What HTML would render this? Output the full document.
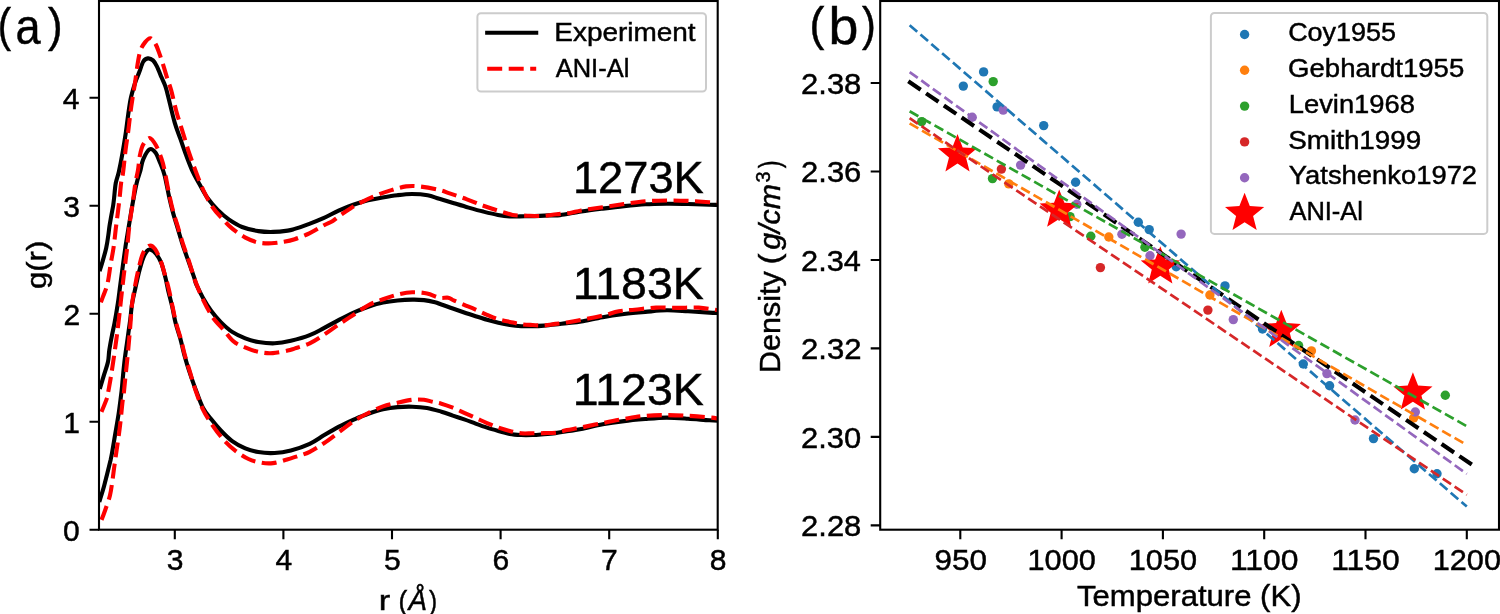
<!DOCTYPE html>
<html><head><meta charset="utf-8"><style>
html,body{margin:0;padding:0;background:#fff;width:1500px;height:614px;overflow:hidden;}
svg{display:block;will-change:transform;}
text{font-family:"Liberation Sans",sans-serif;fill:#000;stroke:#000;stroke-width:0.45px;}
</style></head><body>
<svg width="1500" height="614" viewBox="0 0 1500 614">
<rect width="1500" height="614" fill="#fff"/>
<defs><clipPath id="ca"><rect x="99" y="1" width="618.7" height="528.7"/></clipPath><clipPath id="cb"><rect x="880.2" y="1" width="618.8" height="528.7"/></clipPath></defs>
<g clip-path="url(#ca)" fill="none" stroke-linejoin="round">
<path d="M99.6,271.1 C100.1,269.4 101.7,264.5 102.8,260.6 C103.9,256.8 105.3,252.1 106.2,248.0 C107.1,243.9 107.7,239.7 108.2,236.0 C108.8,232.3 109.0,229.4 109.5,226.0 C110.0,222.6 110.7,219.1 111.3,215.6 C111.9,212.1 112.7,208.5 113.2,205.2 C113.7,201.9 113.9,199.7 114.3,196.0 C114.7,192.3 115.0,187.0 115.8,183.0 C116.5,179.0 117.7,176.9 118.8,172.0 C119.9,167.1 121.3,159.9 122.4,153.6 C123.5,147.3 124.6,140.6 125.6,134.1 C126.6,127.6 127.3,120.5 128.2,114.5 C129.1,108.5 129.7,103.3 130.8,98.2 C131.9,93.1 133.4,88.2 134.8,83.8 C136.2,79.4 137.9,75.8 139.3,72.1 C140.7,68.4 141.8,64.0 143.2,61.7 C144.6,59.4 146.2,58.6 147.8,58.4 C149.4,58.2 151.5,59.1 153.0,60.4 C154.5,61.7 155.5,63.5 156.9,66.3 C158.3,69.1 160.1,73.9 161.5,77.3 C162.9,80.7 164.2,82.9 165.4,86.4 C166.6,89.9 167.1,92.2 168.6,98.2 C170.1,104.2 172.7,115.8 174.7,122.6 C176.7,129.4 178.5,133.5 180.4,138.9 C182.3,144.3 184.1,149.7 186.1,155.1 C188.1,160.5 190.3,166.5 192.6,171.4 C194.9,176.3 197.2,180.2 199.8,184.7 C202.4,189.2 204.9,194.3 207.9,198.5 C210.9,202.7 214.2,206.4 217.7,209.9 C221.2,213.4 225.0,216.8 229.1,219.7 C233.2,222.5 237.2,225.1 242.1,227.0 C247.0,228.9 253.2,230.3 258.4,231.1 C263.6,231.9 268.2,232.0 273.1,231.9 C278.0,231.8 284.1,231.1 287.7,230.6 C291.3,230.1 291.1,230.0 294.7,228.9 C298.3,227.8 304.4,225.6 309.3,223.8 C314.2,222.0 319.1,220.1 324.0,217.9 C328.9,215.7 333.7,212.8 338.6,210.6 C343.5,208.4 348.4,206.4 353.3,204.7 C358.2,203.0 363.1,201.5 368.0,200.3 C372.9,199.1 377.7,198.2 382.6,197.4 C387.5,196.6 392.4,195.8 397.3,195.2 C402.2,194.6 406.9,194.0 412.0,194.0 C417.1,194.0 423.1,194.4 427.6,195.2 C432.2,196.0 434.9,197.5 439.3,198.8 C443.7,200.1 449.1,201.7 454.0,203.2 C458.9,204.7 463.7,206.2 468.6,207.6 C473.5,209.0 478.4,210.4 483.3,211.6 C488.2,212.8 493.5,214.1 497.9,214.9 C502.3,215.7 505.9,216.2 509.6,216.4 C513.3,216.7 515.8,216.5 519.9,216.4 C524.0,216.3 529.6,216.3 534.5,216.1 C539.4,215.9 545.0,215.6 549.2,215.4 C553.5,215.2 554.6,215.8 560.0,215.2 C565.4,214.5 574.2,212.6 581.3,211.5 C588.4,210.4 595.6,209.5 602.7,208.6 C609.8,207.7 616.9,206.8 624.0,206.1 C631.1,205.4 638.2,204.7 645.3,204.3 C652.4,203.9 659.6,203.8 666.7,203.7 C673.8,203.6 680.9,203.8 688.0,204.0 C695.1,204.2 704.1,204.5 709.3,204.7 C714.5,204.9 717.4,204.9 719.0,205.0" stroke="#000" stroke-width="4.1"/>
<path d="M100.9,302.3 C101.2,301.4 101.7,300.1 102.8,297.1 C103.9,294.1 106.1,289.5 107.4,284.1 C108.7,278.7 109.6,270.5 110.6,264.5 C111.6,258.5 112.6,254.0 113.5,248.0 C114.4,242.0 115.1,234.4 115.8,228.6 C116.5,222.8 117.1,218.4 117.8,213.0 C118.5,207.6 119.2,201.1 119.8,196.1 C120.3,191.1 120.6,186.8 121.1,183.0 C121.6,179.2 122.2,178.6 123.0,173.0 C123.8,167.4 124.7,156.6 125.6,149.7 C126.5,142.8 127.4,137.4 128.2,131.5 C129.0,125.6 129.5,120.0 130.2,114.5 C130.9,109.0 131.6,104.2 132.5,98.5 C133.4,92.8 134.5,86.1 135.4,80.0 C136.3,73.9 137.1,66.7 138.0,61.7 C138.9,56.7 139.4,53.3 140.6,50.0 C141.8,46.7 143.6,44.1 145.2,42.1 C146.8,40.1 148.7,37.9 150.4,38.2 C152.1,38.5 154.1,41.5 155.6,44.1 C157.1,46.7 158.2,50.3 159.5,53.9 C160.8,57.5 162.1,61.5 163.4,65.6 C164.7,69.7 166.0,74.5 167.3,78.6 C168.6,82.7 169.7,85.0 171.2,90.4 C172.7,95.8 174.4,104.2 176.3,111.2 C178.2,118.2 180.6,125.3 182.8,132.3 C185.0,139.4 187.1,147.0 189.3,153.5 C191.5,160.0 193.5,165.4 195.8,171.4 C198.1,177.4 200.2,183.5 203.0,189.5 C205.8,195.5 209.5,202.6 212.8,207.5 C216.1,212.4 219.3,215.4 222.6,218.9 C225.8,222.4 228.5,225.5 232.3,228.6 C236.1,231.7 241.1,235.3 245.4,237.6 C249.8,239.9 254.1,241.6 258.4,242.5 C262.7,243.4 267.1,243.4 271.4,243.3 C275.7,243.2 280.1,242.5 284.0,241.8 C287.9,241.1 290.5,240.6 294.7,239.2 C298.9,237.8 304.4,235.6 309.3,233.3 C314.2,231.0 320.1,227.3 324.0,225.2 C327.9,223.1 329.9,222.7 332.8,220.9 C335.7,219.1 338.7,216.4 341.6,214.3 C344.5,212.2 347.0,210.5 350.4,208.4 C353.8,206.3 357.7,204.0 362.1,201.8 C366.5,199.6 371.9,197.1 376.8,195.2 C381.7,193.2 386.5,191.6 391.4,190.1 C396.3,188.6 401.5,187.0 406.1,186.4 C410.8,185.8 413.8,185.8 419.3,186.4 C424.8,187.0 434.2,188.8 439.3,190.0 C444.4,191.2 445.2,191.9 449.6,193.4 C454.0,194.9 460.1,196.8 465.7,198.8 C471.3,200.9 477.9,203.8 483.3,205.7 C488.7,207.6 493.0,209.0 497.9,210.5 C502.8,212.0 507.7,214.0 512.6,214.9 C517.5,215.8 522.3,215.5 527.2,215.7 C532.1,215.9 537.0,216.2 541.9,216.0 C546.8,215.8 551.8,214.7 556.5,214.2 C561.2,213.7 565.9,213.6 570.0,213.0 C574.1,212.4 575.8,211.4 581.3,210.4 C586.8,209.4 595.6,208.3 602.7,207.2 C609.8,206.1 616.9,205.0 624.0,204.0 C631.1,203.0 638.2,201.9 645.3,201.3 C652.4,200.7 659.6,200.6 666.7,200.5 C673.8,200.4 680.9,200.6 688.0,200.9 C695.1,201.2 704.1,201.9 709.3,202.2 C714.5,202.5 717.4,202.5 719.0,202.6" stroke="#f00" stroke-width="4.1" stroke-dasharray="15 6.5"/>
<path d="M99.8,389.0 C100.5,386.6 102.7,379.2 104.1,374.7 C105.5,370.1 107.1,365.8 108.0,361.7 C108.9,357.6 108.6,354.4 109.3,350.0 C110.0,345.6 111.0,340.1 111.9,335.6 C112.8,331.1 113.5,328.5 114.5,323.2 C115.5,317.9 116.8,310.1 117.8,303.6 C118.8,297.1 119.5,290.6 120.4,284.1 C121.3,277.6 122.2,270.5 123.0,264.5 C123.8,258.5 124.8,251.8 125.3,248.0 C125.8,244.2 125.6,246.0 126.3,241.7 C127.0,237.4 128.4,228.6 129.5,222.1 C130.6,215.6 131.6,209.1 132.8,202.6 C134.0,196.1 135.4,188.3 136.7,183.0 C137.9,177.7 139.2,174.9 140.3,171.0 C141.4,167.1 141.6,162.9 143.2,159.3 C144.8,155.7 147.6,150.4 149.7,149.3 C151.8,148.2 153.9,150.6 155.6,152.8 C157.3,155.1 158.6,159.1 160.1,162.8 C161.6,166.5 163.0,169.4 164.5,175.0 C166.0,180.6 167.6,190.0 169.0,196.3 C170.4,202.6 171.5,207.2 173.0,212.6 C174.5,218.0 176.3,223.5 177.9,228.9 C179.5,234.3 181.0,239.7 182.8,245.1 C184.6,250.5 186.6,256.0 188.5,261.4 C190.4,266.8 192.9,273.8 194.2,277.7 C195.5,281.6 194.9,281.4 196.4,284.7 C197.9,288.0 200.5,293.4 202.9,297.7 C205.3,302.0 208.1,306.6 211.1,310.7 C214.1,314.8 217.3,318.6 220.8,322.1 C224.3,325.6 228.1,329.2 232.2,331.9 C236.3,334.6 241.0,336.7 245.3,338.4 C249.7,340.1 253.4,341.2 258.3,342.0 C263.2,342.8 269.2,343.5 274.6,343.3 C280.0,343.1 285.0,342.2 290.9,340.8 C296.8,339.4 304.1,337.4 309.7,335.2 C315.3,333.0 319.4,330.4 324.3,327.9 C329.2,325.3 334.1,322.5 339.0,319.9 C343.9,317.3 348.8,314.7 353.7,312.5 C358.6,310.3 363.4,308.3 368.3,306.7 C373.2,305.1 378.1,303.6 383.0,302.6 C387.9,301.6 392.7,301.0 397.6,300.5 C402.5,300.0 407.9,299.7 412.3,299.6 C416.7,299.5 420.2,299.7 424.0,300.1 C427.8,300.6 432.1,301.6 435.0,302.3 C437.9,303.0 438.4,303.5 441.4,304.5 C444.4,305.5 449.0,307.2 452.8,308.5 C456.6,309.8 460.4,311.2 464.2,312.5 C468.0,313.8 471.8,315.0 475.6,316.2 C479.4,317.4 483.2,318.6 487.0,319.7 C490.8,320.8 494.6,321.8 498.4,322.7 C502.2,323.6 506.0,324.4 509.8,325.0 C513.6,325.6 517.4,326.0 521.2,326.2 C525.0,326.4 528.8,326.3 532.6,326.2 C536.4,326.1 540.2,325.9 544.0,325.6 C547.8,325.3 551.6,324.9 555.4,324.5 C559.2,324.1 562.5,323.6 566.8,323.1 C571.1,322.6 575.3,322.5 581.3,321.5 C587.3,320.5 595.6,318.4 602.7,317.2 C609.8,315.9 616.9,314.9 624.0,314.0 C631.1,313.1 638.2,312.5 645.3,311.9 C652.4,311.3 659.6,310.4 666.7,310.3 C673.8,310.2 680.9,310.9 688.0,311.3 C695.1,311.7 704.1,312.3 709.3,312.6 C714.5,312.9 717.4,312.8 719.0,312.9" stroke="#000" stroke-width="4.1"/>
<path d="M101.5,411.9 C102.4,409.7 105.6,402.0 106.7,398.9 C107.8,395.8 107.3,396.4 108.0,393.0 C108.7,389.6 109.7,383.8 110.6,378.6 C111.5,373.4 112.3,367.6 113.2,361.7 C114.1,355.8 114.9,350.0 115.8,343.5 C116.7,337.0 117.5,331.0 118.5,322.6 C119.5,314.2 120.7,301.8 121.7,293.2 C122.7,284.6 123.4,278.3 124.3,271.1 C125.2,263.9 126.0,257.9 126.9,250.2 C127.8,242.5 128.5,232.6 129.5,224.7 C130.5,216.8 131.8,209.5 132.8,202.6 C133.8,195.7 134.5,188.4 135.4,183.0 C136.3,177.6 137.2,174.7 138.0,170.0 C138.8,165.3 139.1,159.2 140.0,154.9 C140.9,150.7 141.6,147.3 143.2,144.5 C144.8,141.7 147.5,137.8 149.7,138.0 C151.9,138.2 154.2,142.3 156.2,145.8 C158.2,149.3 160.1,154.8 161.5,158.8 C162.9,162.8 163.2,163.8 164.5,170.0 C165.8,176.2 168.0,188.9 169.5,196.0 C171.0,203.1 172.0,207.1 173.5,212.6 C175.0,218.1 176.9,223.6 178.5,229.0 C180.1,234.4 181.6,239.6 183.3,245.0 C185.1,250.4 187.1,255.6 189.0,261.4 C190.9,267.2 192.5,273.5 194.8,279.8 C197.1,286.1 199.9,293.1 202.9,299.3 C205.9,305.5 209.2,312.0 212.7,317.2 C216.2,322.4 220.6,326.2 224.1,330.3 C227.6,334.4 230.1,338.7 233.9,341.7 C237.7,344.7 242.6,346.4 246.9,348.2 C251.2,349.9 255.6,351.4 259.9,352.2 C264.2,353.0 268.3,353.4 272.9,353.1 C277.5,352.8 283.9,351.4 287.6,350.6 C291.3,349.8 291.3,349.6 295.0,348.4 C298.7,347.2 304.8,345.6 309.7,343.3 C314.6,341.0 319.4,337.7 324.3,334.5 C329.2,331.3 334.1,327.6 339.0,324.3 C343.9,321.0 348.8,317.9 353.7,314.7 C358.6,311.5 363.4,307.8 368.3,305.2 C373.2,302.6 378.1,301.1 383.0,299.3 C387.9,297.5 392.7,295.8 397.6,294.6 C402.5,293.4 407.4,292.5 412.3,292.3 C417.2,292.1 422.5,292.6 427.0,293.5 C431.5,294.4 435.6,297.0 439.1,297.7 C442.6,298.4 445.9,297.3 448.2,297.7 C450.5,298.1 450.1,298.8 452.8,300.0 C455.5,301.2 460.4,303.2 464.2,304.8 C468.0,306.4 471.8,307.9 475.6,309.6 C479.4,311.3 483.2,313.2 487.0,314.8 C490.8,316.4 494.6,318.1 498.4,319.3 C502.2,320.5 506.0,321.1 509.8,321.9 C513.6,322.7 517.4,323.7 521.2,324.2 C525.0,324.7 528.8,324.8 532.6,325.0 C536.4,325.2 540.2,325.6 544.0,325.4 C547.8,325.2 551.6,324.4 555.4,323.9 C559.2,323.4 562.5,323.1 566.8,322.4 C571.1,321.7 575.3,321.0 581.3,319.9 C587.3,318.8 596.5,317.0 602.7,315.6 C608.9,314.2 613.4,312.3 618.7,311.3 C624.0,310.3 628.5,310.3 634.7,309.7 C640.9,309.1 648.9,307.9 656.0,307.6 C663.1,307.3 670.2,307.9 677.3,307.9 C684.4,307.9 691.8,307.2 698.7,307.6 C705.7,308.0 715.6,309.9 719.0,310.3" stroke="#f00" stroke-width="4.1" stroke-dasharray="15 6.5"/>
<path d="M99.3,502.0 C100.1,499.3 102.8,490.8 104.1,486.0 C105.4,481.2 106.3,477.3 107.4,473.0 C108.5,468.7 109.8,463.2 110.6,460.0 C111.3,456.8 111.1,457.9 111.9,453.6 C112.7,449.3 114.1,440.6 115.2,434.1 C116.3,427.6 117.5,421.0 118.5,414.5 C119.5,408.0 120.4,400.3 121.1,395.0 C121.8,389.7 121.9,387.8 122.4,382.5 C122.9,377.2 123.5,369.5 124.3,363.0 C125.0,356.5 125.9,350.7 126.9,343.5 C127.9,336.3 129.3,326.6 130.2,320.0 C131.1,313.4 131.2,308.9 132.1,303.6 C133.0,298.3 134.2,293.4 135.4,288.0 C136.6,282.6 138.0,276.1 139.3,271.1 C140.6,266.1 141.9,261.4 143.2,258.0 C144.5,254.6 145.9,252.3 147.1,250.9 C148.3,249.5 148.9,249.1 150.4,249.6 C151.9,250.1 154.4,251.8 156.2,254.1 C158.0,256.4 159.9,259.3 161.4,263.2 C162.9,267.1 164.2,273.0 165.4,277.6 C166.6,282.2 167.2,286.1 168.3,291.0 C169.5,295.9 171.1,301.7 172.3,307.0 C173.5,312.3 174.2,317.3 175.5,322.6 C176.8,327.9 178.9,333.5 180.4,338.9 C181.9,344.3 182.9,349.7 184.4,355.1 C185.9,360.5 187.5,366.0 189.3,371.4 C191.1,376.8 192.7,381.6 195.0,387.7 C197.3,393.8 200.2,402.5 202.9,407.7 C205.6,412.9 208.1,415.3 211.1,419.1 C214.1,422.9 217.3,426.8 220.8,430.5 C224.3,434.2 228.1,438.1 232.2,441.1 C236.3,444.1 241.0,446.6 245.3,448.4 C249.7,450.2 253.4,451.3 258.3,452.1 C263.2,452.9 269.2,453.3 274.6,453.0 C280.0,452.7 285.0,451.9 290.9,450.4 C296.8,448.9 304.1,446.4 309.7,443.8 C315.3,441.2 319.4,437.9 324.3,435.0 C329.2,432.1 334.1,429.2 339.0,426.6 C343.9,424.0 348.8,421.8 353.7,419.6 C358.6,417.5 363.4,415.4 368.3,413.7 C373.2,412.0 378.1,410.4 383.0,409.3 C387.9,408.2 392.7,407.5 397.6,407.1 C402.5,406.7 407.4,406.6 412.3,406.7 C417.2,406.8 422.1,407.1 427.0,407.9 C431.9,408.7 437.1,410.4 441.4,411.7 C445.7,413.0 449.0,414.3 452.8,415.6 C456.6,416.9 460.4,418.1 464.2,419.4 C468.0,420.7 471.8,422.2 475.6,423.6 C479.4,425.0 483.2,426.4 487.0,427.6 C490.8,428.8 494.6,429.9 498.4,431.0 C502.2,432.1 506.0,433.2 509.8,433.9 C513.6,434.6 517.4,434.8 521.2,435.0 C525.0,435.2 528.8,435.1 532.6,435.0 C536.4,434.9 540.2,434.5 544.0,434.2 C547.8,433.9 551.6,433.6 555.4,433.1 C559.2,432.6 562.5,432.0 566.8,431.3 C571.1,430.6 575.3,430.3 581.3,429.1 C587.3,427.9 595.6,425.6 602.7,424.3 C609.8,423.0 616.9,422.0 624.0,421.1 C631.1,420.2 638.2,419.6 645.3,419.0 C652.4,418.4 659.6,417.7 666.7,417.6 C673.8,417.6 680.9,418.2 688.0,418.7 C695.1,419.1 704.1,420.0 709.3,420.3 C714.5,420.6 717.4,420.6 719.0,420.6" stroke="#000" stroke-width="4.1"/>
<path d="M101.5,519.9 C102.2,518.2 104.0,513.6 105.4,509.5 C106.8,505.4 108.8,500.2 110.0,495.2 C111.2,490.2 111.8,484.5 112.6,479.5 C113.3,474.5 113.8,469.9 114.5,465.2 C115.2,460.4 115.6,457.3 116.5,451.0 C117.4,444.7 118.8,435.6 119.8,427.6 C120.8,419.6 121.8,408.4 122.4,402.8 C123.1,397.2 123.3,397.9 123.7,394.3 C124.1,390.7 124.5,386.4 125.0,381.2 C125.5,376.0 126.2,369.5 126.9,363.0 C127.6,356.5 128.3,348.8 128.9,342.1 C129.5,335.4 130.0,329.4 130.5,323.0 C131.0,316.6 131.3,310.1 132.1,303.6 C132.9,297.1 134.2,290.4 135.4,284.1 C136.6,277.8 138.0,271.0 139.3,265.8 C140.6,260.6 141.5,256.2 143.2,252.8 C144.9,249.5 147.7,246.3 149.7,245.7 C151.7,245.1 153.3,246.7 155.0,249.0 C156.7,251.3 158.4,255.0 160.1,259.3 C161.8,263.6 163.5,269.9 165.0,275.0 C166.5,280.1 167.8,284.8 169.0,290.0 C170.2,295.2 171.3,301.1 172.5,306.5 C173.7,311.9 174.6,317.2 176.0,322.6 C177.4,328.0 179.3,333.6 180.8,339.0 C182.3,344.4 183.3,349.6 184.8,355.0 C186.3,360.4 188.1,365.9 189.8,371.4 C191.5,376.9 192.6,381.8 194.8,388.1 C197.0,394.4 199.9,403.1 202.9,409.3 C205.9,415.6 209.2,420.4 212.7,425.6 C216.2,430.8 220.3,436.1 224.1,440.3 C227.9,444.5 231.4,447.7 235.5,450.8 C239.6,453.9 244.2,457.0 248.5,459.0 C252.8,461.0 257.4,462.0 261.5,462.7 C265.6,463.4 268.9,463.6 273.0,463.1 C277.1,462.6 281.9,461.0 286.0,459.8 C290.1,458.6 293.9,457.5 297.9,456.2 C301.8,454.9 305.3,454.0 309.7,451.8 C314.1,449.6 319.4,446.3 324.3,443.0 C329.2,439.7 334.1,435.8 339.0,432.1 C343.9,428.5 348.8,424.3 353.7,421.1 C358.6,417.9 363.4,415.4 368.3,413.0 C373.2,410.6 378.1,408.1 383.0,406.4 C387.9,404.7 392.7,403.8 397.6,402.7 C402.5,401.6 407.9,400.3 412.3,399.8 C416.7,399.3 420.5,399.4 424.0,399.8 C427.5,400.2 430.5,401.4 433.4,402.0 C436.3,402.6 438.2,402.8 441.4,403.7 C444.6,404.6 449.0,406.2 452.8,407.7 C456.6,409.2 460.4,411.1 464.2,412.8 C468.0,414.5 471.8,416.2 475.6,417.9 C479.4,419.6 483.2,421.5 487.0,423.1 C490.8,424.7 494.6,426.3 498.4,427.6 C502.2,428.9 506.0,430.1 509.8,431.0 C513.6,431.9 517.4,432.9 521.2,433.3 C525.0,433.7 528.8,433.3 532.6,433.3 C536.4,433.3 540.2,433.2 544.0,433.1 C547.8,433.0 551.6,433.2 555.4,432.7 C559.2,432.2 562.5,431.0 566.8,430.1 C571.1,429.2 575.3,428.7 581.3,427.5 C587.3,426.3 595.6,424.4 602.7,423.0 C609.8,421.6 616.9,420.2 624.0,419.0 C631.1,417.8 638.2,416.4 645.3,415.8 C652.4,415.2 659.6,415.1 666.7,415.1 C673.8,415.1 680.9,415.4 688.0,415.8 C695.1,416.2 704.1,416.9 709.3,417.4 C714.5,417.9 717.4,418.5 719.0,418.7" stroke="#f00" stroke-width="4.1" stroke-dasharray="15 6.5"/>
</g>
<rect x="99.0" y="1.0" width="618.7" height="528.7" fill="none" stroke="#000" stroke-width="2.1"/>
<path d="M99.0,529.8 h-9.5 M99.0,421.8 h-9.5 M99.0,313.8 h-9.5 M99.0,205.8 h-9.5 M99.0,97.8 h-9.5 M174.8,529.7 v9.5 M283.4,529.7 v9.5 M392.0,529.7 v9.5 M500.6,529.7 v9.5 M609.2,529.7 v9.5 M717.8,529.7 v9.5" stroke="#000" stroke-width="2.1"/>
<text x="63.05" y="540.50" font-family="Liberation Sans, sans-serif" font-size="28.90" textLength="16.72" lengthAdjust="spacingAndGlyphs">0</text>
<text x="63.35" y="432.50" font-family="Liberation Sans, sans-serif" font-size="28.90" textLength="16.72" lengthAdjust="spacingAndGlyphs">1</text>
<text x="63.42" y="324.50" font-family="Liberation Sans, sans-serif" font-size="28.90" textLength="16.72" lengthAdjust="spacingAndGlyphs">2</text>
<text x="63.20" y="216.50" font-family="Liberation Sans, sans-serif" font-size="28.90" textLength="16.72" lengthAdjust="spacingAndGlyphs">3</text>
<text x="62.75" y="108.50" font-family="Liberation Sans, sans-serif" font-size="28.90" textLength="16.72" lengthAdjust="spacingAndGlyphs">4</text>
<text x="166.83" y="569.60" font-family="Liberation Sans, sans-serif" font-size="28.90" textLength="16.72" lengthAdjust="spacingAndGlyphs">3</text>
<text x="275.43" y="569.60" font-family="Liberation Sans, sans-serif" font-size="28.90" textLength="16.72" lengthAdjust="spacingAndGlyphs">4</text>
<text x="383.96" y="569.60" font-family="Liberation Sans, sans-serif" font-size="28.90" textLength="16.72" lengthAdjust="spacingAndGlyphs">5</text>
<text x="492.45" y="569.60" font-family="Liberation Sans, sans-serif" font-size="28.90" textLength="16.72" lengthAdjust="spacingAndGlyphs">6</text>
<text x="601.12" y="569.60" font-family="Liberation Sans, sans-serif" font-size="28.90" textLength="16.72" lengthAdjust="spacingAndGlyphs">7</text>
<text x="709.76" y="569.60" font-family="Liberation Sans, sans-serif" font-size="28.90" textLength="16.72" lengthAdjust="spacingAndGlyphs">8</text>
<text x="378.78" y="610.10" font-family="Liberation Sans, sans-serif" font-size="27.91" textLength="11.46" lengthAdjust="spacingAndGlyphs">r</text>
<text x="398.46" y="610.10" font-family="Liberation Sans, sans-serif" font-size="28.50" textLength="8.75" lengthAdjust="spacingAndGlyphs">(</text>
<text x="408.62" y="610.10" font-family="Liberation Sans, sans-serif" font-size="28.77" textLength="18.49" lengthAdjust="spacingAndGlyphs" font-style="italic">Å</text>
<text x="429.02" y="610.10" font-family="Liberation Sans, sans-serif" font-size="28.50" textLength="8.12" lengthAdjust="spacingAndGlyphs">)</text>
<g transform="translate(46,0) rotate(-90)"><text x="-289.12" y="0.00" font-family="Liberation Sans, sans-serif" font-size="28.10" textLength="48.37" lengthAdjust="spacingAndGlyphs">g(r)</text></g>
<text x="-2.30" y="41.05" font-family="Liberation Sans, sans-serif" font-size="46.97" textLength="13.32" lengthAdjust="spacingAndGlyphs">(</text><text x="15.48" y="43.89" font-family="Liberation Sans, sans-serif" font-size="50.78" textLength="25.07" lengthAdjust="spacingAndGlyphs">a</text><text x="47.97" y="41.05" font-family="Liberation Sans, sans-serif" font-size="46.97" textLength="14.59" lengthAdjust="spacingAndGlyphs">)</text>
<text x="572.91" y="193.10" font-family="Liberation Sans, sans-serif" font-size="43.73" textLength="130.82" lengthAdjust="spacingAndGlyphs">1273K</text>
<text x="572.81" y="299.20" font-family="Liberation Sans, sans-serif" font-size="43.73" textLength="130.97" lengthAdjust="spacingAndGlyphs">1183K</text>
<text x="572.81" y="404.80" font-family="Liberation Sans, sans-serif" font-size="43.73" textLength="130.97" lengthAdjust="spacingAndGlyphs">1123K</text>
<rect x="477.4" y="13.2" width="228.6" height="78.4" rx="3.5" fill="#fff" fill-opacity="0.8" stroke="#ccc" stroke-width="2"/>
<path d="M487.2,32.8 H536.2" stroke="#000" stroke-width="4.1" stroke-linecap="square"/>
<path d="M487.2,68.7 H536.2" stroke="#f00" stroke-width="4.1" stroke-dasharray="15 6.5"/>
<text x="554.29" y="41.30" font-family="Liberation Sans, sans-serif" font-size="25.50" textLength="141.32" lengthAdjust="spacingAndGlyphs">Experiment</text>
<text x="555.74" y="76.90" font-family="Liberation Sans, sans-serif" font-size="25.50" textLength="73.56" lengthAdjust="spacingAndGlyphs">ANI-Al</text>
<g clip-path="url(#cb)">
<circle cx="963.3" cy="86.1" r="4.7" fill="#1f77b4"/>
<circle cx="983.6" cy="71.9" r="4.7" fill="#1f77b4"/>
<circle cx="997.1" cy="106.9" r="4.7" fill="#1f77b4"/>
<circle cx="1043.7" cy="125.6" r="4.7" fill="#1f77b4"/>
<circle cx="1075.6" cy="182.2" r="4.7" fill="#1f77b4"/>
<circle cx="1138.3" cy="222.2" r="4.7" fill="#1f77b4"/>
<circle cx="1149.2" cy="229.6" r="4.7" fill="#1f77b4"/>
<circle cx="1176.2" cy="266.8" r="4.7" fill="#1f77b4"/>
<circle cx="1225.0" cy="285.9" r="4.7" fill="#1f77b4"/>
<circle cx="1262.5" cy="329.0" r="4.7" fill="#1f77b4"/>
<circle cx="1303.3" cy="364.0" r="4.7" fill="#1f77b4"/>
<circle cx="1329.6" cy="385.7" r="4.7" fill="#1f77b4"/>
<circle cx="1373.5" cy="438.6" r="4.7" fill="#1f77b4"/>
<circle cx="1414.3" cy="468.8" r="4.7" fill="#1f77b4"/>
<circle cx="1437.0" cy="473.7" r="4.7" fill="#1f77b4"/>
<circle cx="1008.8" cy="183.9" r="4.7" fill="#ff7f0e"/>
<circle cx="1108.8" cy="237.0" r="4.7" fill="#ff7f0e"/>
<circle cx="1209.9" cy="295.0" r="4.7" fill="#ff7f0e"/>
<circle cx="1311.4" cy="350.9" r="4.7" fill="#ff7f0e"/>
<circle cx="1413.6" cy="418.0" r="4.7" fill="#ff7f0e"/>
<circle cx="921.7" cy="121.6" r="4.7" fill="#2ca02c"/>
<circle cx="993.2" cy="81.6" r="4.7" fill="#2ca02c"/>
<circle cx="992.5" cy="178.6" r="4.7" fill="#2ca02c"/>
<circle cx="1070.0" cy="216.6" r="4.7" fill="#2ca02c"/>
<circle cx="1090.8" cy="236.2" r="4.7" fill="#2ca02c"/>
<circle cx="1144.9" cy="247.3" r="4.7" fill="#2ca02c"/>
<circle cx="1298.6" cy="345.5" r="4.7" fill="#2ca02c"/>
<circle cx="1445.3" cy="395.3" r="4.7" fill="#2ca02c"/>
<circle cx="1001.4" cy="169.1" r="4.7" fill="#d62728"/>
<circle cx="1100.4" cy="267.6" r="4.7" fill="#d62728"/>
<circle cx="1207.9" cy="310.1" r="4.7" fill="#d62728"/>
<circle cx="972.2" cy="117.3" r="4.7" fill="#9467bd"/>
<circle cx="1003.2" cy="110.1" r="4.7" fill="#9467bd"/>
<circle cx="1020.6" cy="165.1" r="4.7" fill="#9467bd"/>
<circle cx="1076.8" cy="204.3" r="4.7" fill="#9467bd"/>
<circle cx="1121.9" cy="234.2" r="4.7" fill="#9467bd"/>
<circle cx="1150.0" cy="255.8" r="4.7" fill="#9467bd"/>
<circle cx="1181.1" cy="234.1" r="4.7" fill="#9467bd"/>
<circle cx="1233.3" cy="319.6" r="4.7" fill="#9467bd"/>
<circle cx="1326.9" cy="373.6" r="4.7" fill="#9467bd"/>
<circle cx="1355.0" cy="420.0" r="4.7" fill="#9467bd"/>
<circle cx="1415.3" cy="412.0" r="4.7" fill="#9467bd"/>
<polygon points="957.5,134.1 962.7,147.5 977.1,148.3 966.0,157.5 969.6,171.4 957.5,163.6 945.4,171.4 949.0,157.5 937.9,148.3 952.3,147.5" fill="#f00"/>
<polygon points="1059.2,189.4 1064.4,202.8 1078.8,203.6 1067.7,212.8 1071.3,226.7 1059.2,218.9 1047.1,226.7 1050.7,212.8 1039.6,203.6 1054.0,202.8" fill="#f00"/>
<polygon points="1160.3,246.2 1165.5,259.6 1179.9,260.4 1168.8,269.6 1172.4,283.5 1160.3,275.7 1148.2,283.5 1151.8,269.6 1140.7,260.4 1155.1,259.6" fill="#f00"/>
<polygon points="1281.3,309.7 1286.5,323.1 1300.9,323.9 1289.8,333.1 1293.4,347.0 1281.3,339.2 1269.2,347.0 1272.8,333.1 1261.7,323.9 1276.1,323.1" fill="#f00"/>
<polygon points="1412.9,372.2 1418.1,385.6 1432.5,386.4 1421.4,395.6 1425.0,409.5 1412.9,401.7 1400.8,409.5 1404.4,395.6 1393.3,386.4 1407.7,385.6" fill="#f00"/>
<path d="M908.30,81.25 L1472.00,464.70" stroke="#000" stroke-width="4.1" stroke-dasharray="15 6.5" fill="none"/>
<path d="M909.65,25.20 L1466.80,506.60" stroke="#1f77b4" stroke-width="2.7" stroke-dasharray="10 4.3" fill="none"/>
<path d="M909.65,123.40 L1466.80,445.00" stroke="#ff7f0e" stroke-width="2.7" stroke-dasharray="10 4.3" fill="none"/>
<path d="M909.65,111.30 L1466.80,426.20" stroke="#2ca02c" stroke-width="2.7" stroke-dasharray="10 4.3" fill="none"/>
<path d="M909.65,118.20 L1466.80,494.80" stroke="#d62728" stroke-width="2.7" stroke-dasharray="10 4.3" fill="none"/>
<path d="M909.65,72.10 L1466.80,473.90" stroke="#9467bd" stroke-width="2.7" stroke-dasharray="10 4.3" fill="none"/>
</g>
<rect x="880.2" y="1.0" width="618.8" height="528.7" fill="none" stroke="#000" stroke-width="2.1"/>
<path d="M880.2,525.4 h-9.5 M880.2,436.9 h-9.5 M880.2,348.4 h-9.5 M880.2,260.0 h-9.5 M880.2,171.5 h-9.5 M880.2,83.0 h-9.5 M960.3,529.7 v9.5 M1061.6,529.7 v9.5 M1162.9,529.7 v9.5 M1264.2,529.7 v9.5 M1365.5,529.7 v9.5 M1466.8,529.7 v9.5" stroke="#000" stroke-width="2.1"/>
<text x="801.05" y="536.20" font-family="Liberation Sans, sans-serif" font-size="29.20" textLength="60.31" lengthAdjust="spacingAndGlyphs">2.28</text>
<text x="801.05" y="447.72" font-family="Liberation Sans, sans-serif" font-size="29.20" textLength="60.15" lengthAdjust="spacingAndGlyphs">2.30</text>
<text x="801.04" y="359.24" font-family="Liberation Sans, sans-serif" font-size="29.20" textLength="60.55" lengthAdjust="spacingAndGlyphs">2.32</text>
<text x="801.06" y="270.76" font-family="Liberation Sans, sans-serif" font-size="29.20" textLength="59.82" lengthAdjust="spacingAndGlyphs">2.34</text>
<text x="801.05" y="182.28" font-family="Liberation Sans, sans-serif" font-size="29.20" textLength="60.31" lengthAdjust="spacingAndGlyphs">2.36</text>
<text x="801.05" y="93.80" font-family="Liberation Sans, sans-serif" font-size="29.20" textLength="60.31" lengthAdjust="spacingAndGlyphs">2.38</text>
<text x="934.51" y="569.70" font-family="Liberation Sans, sans-serif" font-size="29.20" textLength="52.51" lengthAdjust="spacingAndGlyphs">950</text>
<text x="1027.50" y="569.70" font-family="Liberation Sans, sans-serif" font-size="29.20" textLength="68.32" lengthAdjust="spacingAndGlyphs">1000</text>
<text x="1128.80" y="569.70" font-family="Liberation Sans, sans-serif" font-size="29.20" textLength="68.32" lengthAdjust="spacingAndGlyphs">1050</text>
<text x="1230.01" y="569.70" font-family="Liberation Sans, sans-serif" font-size="29.20" textLength="68.39" lengthAdjust="spacingAndGlyphs">1100</text>
<text x="1331.31" y="569.70" font-family="Liberation Sans, sans-serif" font-size="29.20" textLength="68.39" lengthAdjust="spacingAndGlyphs">1150</text>
<text x="1432.70" y="569.70" font-family="Liberation Sans, sans-serif" font-size="29.20" textLength="68.32" lengthAdjust="spacingAndGlyphs">1200</text>
<text x="1077.00" y="606.00" font-family="Liberation Sans, sans-serif" font-size="29.10" textLength="224.54" lengthAdjust="spacingAndGlyphs">Temperature (K)</text>
<g transform="translate(780.1,0) rotate(-90)"><text x="-373.12" y="0.00" font-family="Liberation Sans, sans-serif" font-size="29.30" textLength="101.99" lengthAdjust="spacingAndGlyphs">Density</text><text x="-264.47" y="0.00" font-family="Liberation Sans, sans-serif" font-size="29.30" textLength="11.04" lengthAdjust="spacingAndGlyphs">(</text><text x="-249.88" y="0.00" font-family="Liberation Sans, sans-serif" font-size="29.30" textLength="65.83" lengthAdjust="spacingAndGlyphs" font-style="italic">g/cm</text><text x="-182.44" y="-10.60" font-family="Liberation Sans, sans-serif" font-size="20.50" textLength="11.01" lengthAdjust="spacingAndGlyphs">3</text><text x="-168.18" y="0.00" font-family="Liberation Sans, sans-serif" font-size="29.30" textLength="7.87" lengthAdjust="spacingAndGlyphs">)</text></g>
<text x="809.41" y="40.12" font-family="Liberation Sans, sans-serif" font-size="46.65" textLength="14.84" lengthAdjust="spacingAndGlyphs">(</text><text x="828.50" y="43.49" font-family="Liberation Sans, sans-serif" font-size="51.29" textLength="29.91" lengthAdjust="spacingAndGlyphs">b</text><text x="861.99" y="40.12" font-family="Liberation Sans, sans-serif" font-size="46.65" textLength="13.83" lengthAdjust="spacingAndGlyphs">)</text>
<rect x="1210.9" y="12.9" width="276.4" height="221" rx="3.5" fill="#fff" fill-opacity="0.8" stroke="#ccc" stroke-width="2"/>
<circle cx="1244.6" cy="34.5" r="4.7" fill="#1f77b4"/>
<text x="1288.15" y="41.30" font-family="Liberation Sans, sans-serif" font-size="25.50" textLength="107.84" lengthAdjust="spacingAndGlyphs">Coy1955</text>
<circle cx="1244.6" cy="70.3" r="4.7" fill="#ff7f0e"/>
<text x="1288.12" y="77.30" font-family="Liberation Sans, sans-serif" font-size="25.50" textLength="176.13" lengthAdjust="spacingAndGlyphs">Gebhardt1955</text>
<circle cx="1244.6" cy="106.1" r="4.7" fill="#2ca02c"/>
<text x="1288.74" y="112.50" font-family="Liberation Sans, sans-serif" font-size="25.50" textLength="126.23" lengthAdjust="spacingAndGlyphs">Levin1968</text>
<circle cx="1244.6" cy="141.9" r="4.7" fill="#d62728"/>
<text x="1288.25" y="148.90" font-family="Liberation Sans, sans-serif" font-size="25.50" textLength="133.03" lengthAdjust="spacingAndGlyphs">Smith1999</text>
<circle cx="1244.6" cy="177.7" r="4.7" fill="#9467bd"/>
<text x="1288.88" y="184.10" font-family="Liberation Sans, sans-serif" font-size="25.50" textLength="188.22" lengthAdjust="spacingAndGlyphs">Yatshenko1972</text>
<polygon points="1244.6,192.7 1249.8,206.1 1264.2,206.9 1253.1,216.1 1256.7,230.0 1244.6,222.2 1232.5,230.0 1236.1,216.1 1225.0,206.9 1239.4,206.1" fill="#f00"/>
<text x="1289.44" y="220.00" font-family="Liberation Sans, sans-serif" font-size="25.50" textLength="73.56" lengthAdjust="spacingAndGlyphs">ANI-Al</text>
</svg>
</body></html>
